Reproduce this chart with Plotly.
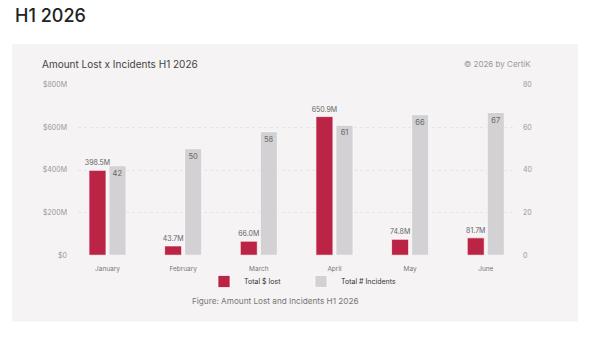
import plotly.graph_objects as go

months = ["January", "February", "March", "April", "May", "June"]
amount_lost = [398.5, 43.7, 66.0, 650.9, 74.8, 81.7]  # $M
incidents = [42, 50, 58, 61, 66, 67]
left_ticks = [0, 200, 400, 600, 800]
left_labels = ["$0", "$200M", "$400M", "$600M", "$800M"]
right_ticks = [0, 20, 40, 60, 80]

W, H = 600, 341
def px(x):
    return x / W
def py(y):
    return 1 - y / H

FONT = "Inter"
RED = "#BC2446"
GRAY = "#D3D1D3"
PANEL = "#F5F3F4"

fig = go.Figure()
fig.add_trace(go.Bar(
    x=months, y=amount_lost, name="Total $ lost",
    marker=dict(color=RED, line=dict(color="rgba(255,255,255,0.7)", width=1)),
    width=0.225, offset=-0.245,
    texttemplate="%{y:.1f}M", textposition="outside", cliponaxis=False,
    constraintext="none",
    textfont=dict(family=FONT, size=7, color="#666"),
    yaxis="y",
))
fig.add_trace(go.Bar(
    x=months, y=incidents, name="Total # Incidents",
    marker=dict(color=GRAY, line=dict(color="rgba(255,255,255,0.7)", width=1)),
    width=0.225, offset=0.02,
    texttemplate="%{y}", textposition="inside", insidetextanchor="end",
    textangle=0, constraintext="none",
    textfont=dict(family=FONT, size=7.5, color="#666"),
    yaxis="y2",
))

fig.update_layout(
    width=W, height=H, autosize=False,
    margin=dict(l=0, r=0, t=0, b=0),
    paper_bgcolor="white", plot_bgcolor="rgba(0,0,0,0)",
    barmode="overlay",
    font=dict(family=FONT, color="#666"),
    xaxis=dict(
        domain=[px(78), px(513)], range=[-0.39, 5.36],
        showgrid=False, zeroline=False, showline=False, ticks="",
        tickfont=dict(family=FONT, size=6.5, color="#777"),
        ticklabelstandoff=8,
        anchor="y",
    ),
    yaxis=dict(
        domain=[py(257), py(82)], range=[0, 800],
        tickvals=left_ticks, ticktext=left_labels,
        showgrid=True, gridcolor="#E6E4E6", griddash="dot", gridwidth=1,
        zeroline=False, showline=False, ticks="",
        tickfont=dict(family=FONT, size=7, color="#999"),
        ticklabelstandoff=10,
    ),
    yaxis2=dict(
        overlaying="y", side="right", range=[0, 80],
        tickvals=right_ticks,
        showgrid=False, zeroline=False, showline=False, ticks="",
        tickfont=dict(family=FONT, size=7, color="#999"),
        ticklabelstandoff=9,
    ),
    showlegend=True,
    legend=dict(
        orientation="h", x=px(204), y=py(284), xanchor="left", yanchor="middle",
        font=dict(family=FONT, size=7, color="#333"),
        bgcolor="rgba(0,0,0,0)", entrywidth=52, entrywidthmode="pixels",
        itemwidth=30, traceorder="normal",
    ),
    shapes=[dict(
        type="rect", xref="paper", yref="paper",
        x0=px(12), x1=px(578), y0=py(325), y1=py(40),
        fillcolor=PANEL, line=dict(width=0), layer="below",
    )],
    annotations=[
        dict(text="H1 2026", xref="paper", yref="paper", x=px(13), y=py(11),
             xanchor="left", yanchor="middle", showarrow=False,
             font=dict(family=FONT, size=18, color="#222", weight=500)),
        dict(text="Amount Lost x Incidents H1 2026", xref="paper", yref="paper",
             x=px(40), y=py(61), xanchor="left", yanchor="middle", showarrow=False,
             font=dict(family=FONT, size=10, color="#444")),
        dict(text="© 2026 by CertiK", xref="paper", yref="paper",
             x=px(533), y=py(61), xanchor="right", yanchor="middle", showarrow=False,
             font=dict(family=FONT, size=8, color="#999")),
        dict(text="Figure: Amount Lost and Incidents H1 2026", xref="paper", yref="paper",
             x=px(275), y=py(304), xanchor="center", yanchor="middle", showarrow=False,
             font=dict(family=FONT, size=8.2, color="#777")),
    ],
)

fig.write_html("out.html")
